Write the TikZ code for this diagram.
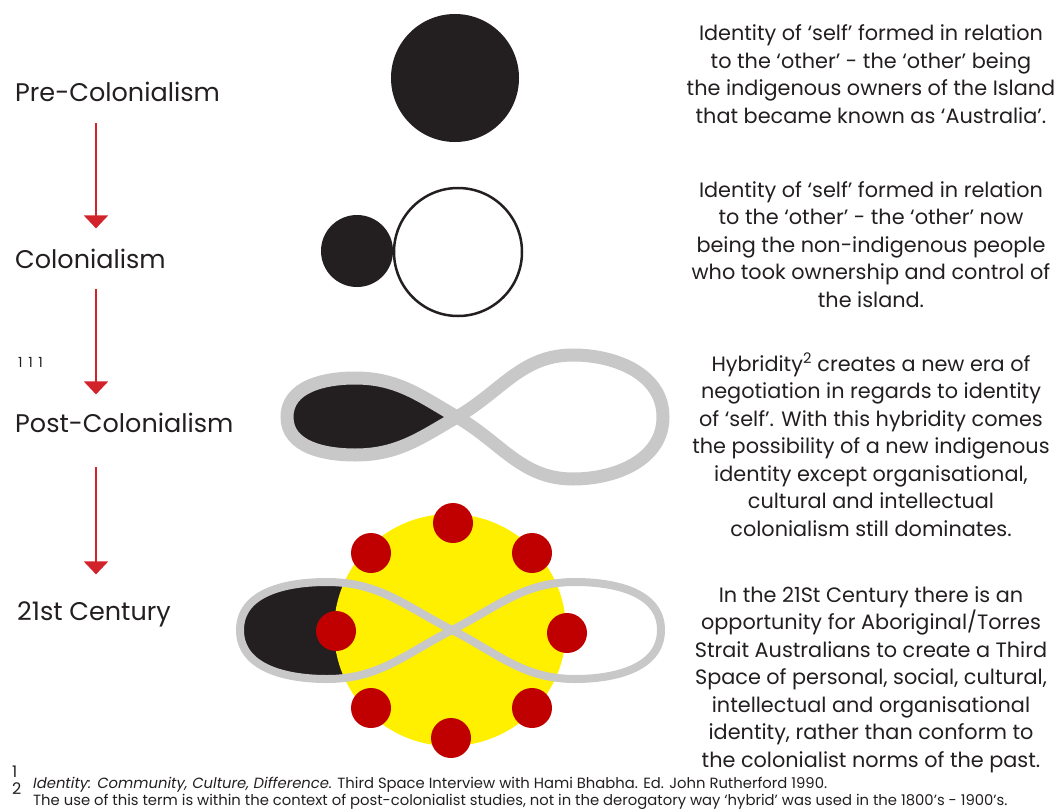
\documentclass[tikz,border=0pt]{standalone}
\usepackage{fontspec}
\setmainfont{Poppins}
\usetikzlibrary{arrows.meta}
\definecolor{ink}{RGB}{35,31,32}
\definecolor{arrowred}{RGB}{210,35,42}
\definecolor{loopgray}{RGB}{200,200,200}
\definecolor{sunyellow}{RGB}{255,240,0}
\definecolor{dotred}{RGB}{192,0,0}
\begin{document}
\begin{tikzpicture}[x=1pt,y=-1pt,
    stage/.style={anchor=base west,inner sep=0,text=ink,font=\fontsize{25.5}{30}\selectfont},
    note/.style={anchor=base,inner sep=0,align=center,text=ink,font=\fontsize{20.8}{27.5}\selectfont},
    foot/.style={anchor=base west,inner sep=0,text=ink,font=\fontsize{14.8}{16}\selectfont},
    flow/.style={arrowred,line width=2pt,-{Triangle[width=24pt,length=13pt]}}]
    \useasboundingbox (0,0) rectangle (1061,809);
    % stages down the left
    \node[stage] (pre) at (15,101) {Pre-Colonialism};
    \node[stage] (col) at (15,268) {Colonialism};
    \node[stage] (post) at (15,432) {Post-Colonialism};
    \node[stage] (cent) at (17,620) {21st Century};
    \node[anchor=base west,inner sep=0,text=ink,font=\fontsize{14}{15}\selectfont\addfontfeatures{LetterSpace=40}] (mark) at (18,367) {111};
    \coordinate (ax) at (96,0);
    \draw[flow] (pre.south -| ax) ++(0,22) -- ++(0,105);
    \draw[flow] (col.south -| ax) ++(0,21) -- ++(0,105);
    \draw[flow] (post.south -| ax) ++(0,35) -- ++(0,107);
    % pre-colonialism
    \fill[ink] (455,78) circle [radius=64];
    % colonialism
    \fill[ink] (357,251) circle [radius=36];
    \draw[ink,line width=2.5pt] (458,252) circle [radius=64];
    % post-colonialism
    \fill[ink] (457,417) to[out=150,in=0] (355,378) to[out=180,in=90] (287,417)
        to[out=-90,in=180] (355,455) to[out=0,in=-150] (457,417);
    \draw[loopgray,line width=13pt] (457,417) to[out=150,in=0] (355,378) to[out=180,in=90] (287,417)
        to[out=-90,in=180] (355,455) to[out=0,in=-150] (457,417)
        to[out=30,in=180] (573,355) to[out=0,in=90] (663,417)
        to[out=-90,in=0] (573,479) to[out=180,in=-30] (457,417) -- cycle;
    % 21st century
    \fill[ink] (452,630) to[out=153,in=0] (327,582) to[out=180,in=90] (240,630)
        to[out=-90,in=180] (327,679) to[out=0,in=-153] (452,630);
    \fill[sunyellow] (450,630) circle [radius=116];
    \draw[loopgray,line width=8pt] (452,630) to[out=153,in=0] (327,582) to[out=180,in=90] (240,630)
        to[out=-90,in=180] (327,679) to[out=0,in=-153] (452,630)
        to[out=27,in=180] (575,582) to[out=0,in=90] (661,630)
        to[out=-90,in=0] (575,679) to[out=180,in=-27] (452,630) -- cycle;
    \foreach \pt in {(453,523),(371,553),(532,553),(336,631),(567,633),(371,708),(532,708),(451,738)}
        \fill[dotred] \pt circle [radius=20];
    % notes on the right (anchored on the last line)
    \node[note] (n1) at (871,123) {Identity of `self' formed in relation\\to the `other' - the `other' being\\the indigenous owners of the Island\\that became known as `Australia'.};
    \node[note] (n2) at (871,307) {Identity of `self' formed in relation\\to the `other' - the `other' now\\being the non-indigenous people\\who took ownership and control of\\the island.};
    \node[note] (n3) at (871,536) {Hybridity\textsuperscript{2} creates a new era of\\negotiation in regards to identity\\of `self'. With this hybridity comes\\the possibility of a new indigenous\\identity except organisational,\\cultural and intellectual\\colonialism still dominates.};
    \node[note] (n4) at (871,767) {In the 21St Century there is an\\opportunity for Aboriginal/Torres\\Strait Australians to create a Third\\Space of personal, social, cultural,\\intellectual and organisational\\identity, rather than conform to\\the colonialist norms of the past.};
    % footnotes
    \node[anchor=base west,inner sep=0,text=ink,font=\fontsize{16}{16}\selectfont] (f1) at (12,777) {1};
    \node[anchor=base west,inner sep=0,text=ink,font=\fontsize{16}{16}\selectfont] (f2) at (12,794) {2};
    \node[foot] (fn1) at (33,788) {\textit{Identity: Community, Culture, Difference.} Third Space Interview with Hami Bhabha. Ed. John Rutherford 1990.};
    \node[foot] (fn2) at (33,805) {The use of this term is within the context of post-colonialist studies, not in the derogatory way `hybrid' was used in the 1800's - 1900's.};
\end{tikzpicture}
\end{document}
